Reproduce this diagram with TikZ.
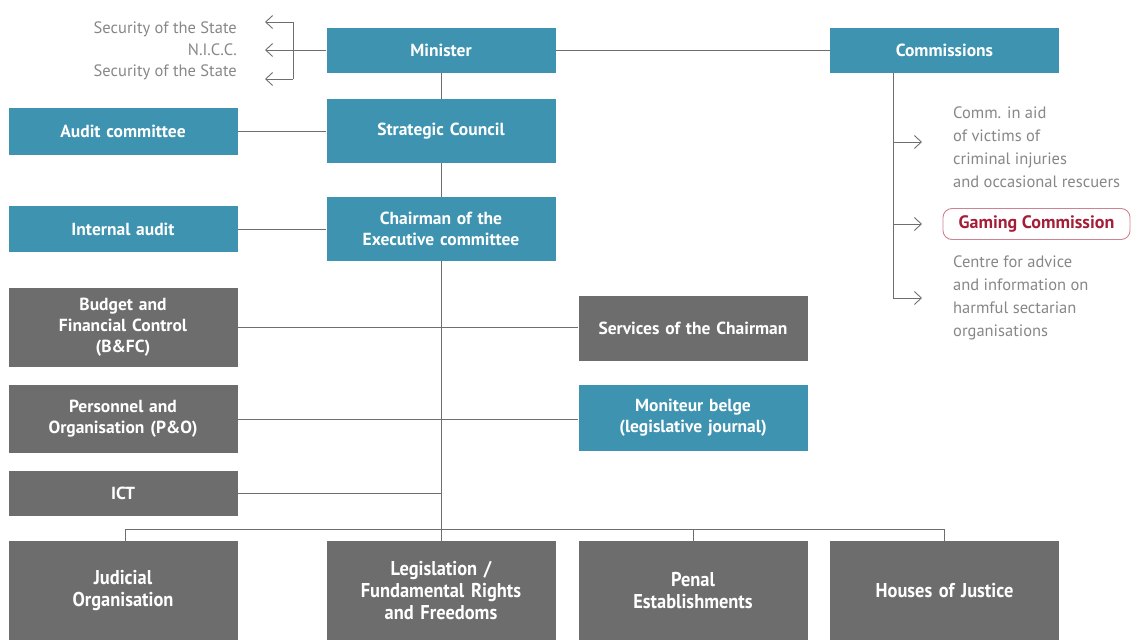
\documentclass[tikz,border=0pt]{standalone}
\usepackage{fontspec}
\setmainfont{PT Sans}
\newfontfamily\narrowfont{PT Sans}[FakeStretch=0.92]
\usetikzlibrary{arrows.meta}

\definecolor{boxteal}{RGB}{61,147,176}
\definecolor{boxgrey}{RGB}{109,109,109}
\definecolor{linegrey}{RGB}{110,110,110}
\definecolor{notegrey}{RGB}{135,135,135}
\definecolor{gamingred}{RGB}{165,30,55}

\tikzset{
  orgbox/.style={minimum width=229pt, inner sep=2pt, align=center, text=white,
    text width=222pt, font=\bfseries\fontsize{17.5}{21}\selectfont},
  tealbox/.style={orgbox, fill=boxteal},
  greybox/.style={orgbox, fill=boxgrey},
  basebox/.style={greybox, minimum height=99pt,
    font=\narrowfont\bfseries\fontsize{20}{22}\selectfont},
  note/.style={text=notegrey, inner sep=0pt, font=\fontsize{16.5}{23}\selectfont},
  link/.style={draw=linegrey, line width=0.9pt},
  pointer/.style={link, -{Straight Barb[length=7pt,width=13pt]}},
}

\begin{document}
\begin{tikzpicture}[x=1pt,y=-1pt]

  \useasboundingbox (0,0) rectangle (1132,640);

  % top row
  \node[tealbox, minimum height=45pt] (minister) at (441,50) {Minister};
  \node[tealbox, minimum height=45pt] (commissions) at (944.5,50) {Commissions};

  % staff boxes
  \node[tealbox, minimum height=64pt] (strategic) at (441,131) {Strategic Council};
  \node[tealbox, minimum height=47pt] (audit) at (123,131) {Audit committee};
  \node[tealbox, minimum height=64pt] (chairman) at (441,229) {Chairman of the\\Executive committee};
  \node[tealbox, minimum height=46pt] (internal) at (123,229) {Internal audit};

  \node[greybox, minimum height=79pt] (budget) at (123,327) {Budget and\\Financial Control\\(B\&FC)};
  \node[greybox, minimum height=65pt] (services) at (693,328.5) {Services of the Chairman};
  \node[greybox, minimum height=68pt] (personnel) at (123,419) {Personnel and\\Organisation (P\&O)};
  \node[tealbox, minimum height=66pt] (moniteur) at (693,418) {Moniteur belge\\(legislative journal)};
  \node[greybox, minimum height=45pt] (ict) at (123,493.5) {ICT};

  % bottom row
  \node[basebox] (judicial) at (123,590.5) {Judicial\\Organisation};
  \node[basebox] (legislation) at (441,590.5) {Legislation /\\Fundamental Rights\\and Freedoms};
  \node[basebox] (penal) at (693,590.5) {Penal\\Establishments};
  \node[basebox] (houses) at (944.5,590.5) {Houses of Justice};

  % trunk
  \draw[link] (minister.south) -- (strategic.north);
  \draw[link] (strategic.south) -- (chairman.north);
  \draw[link] (chairman.south) -- (legislation.north);
  \draw[link] (minister.east) -- (commissions.west);

  % side links
  \draw[link] (audit.east) -- (strategic.west);
  \draw[link] (internal.east) -- (chairman.west);
  \draw[link] (budget.east) -- (budget.east -| services.west);
  \draw[link] (personnel.east) -- (personnel.east -| moniteur.west);
  \draw[link] (ict.east) -- (ict.east -| chairman.south);

  % bus to bottom row
  \coordinate (busl) at (125,529);
  \draw[link] (judicial.north -| busl) -- (busl) -- (busl -| houses.north) -- (houses.north);
  \draw[link] (busl -| penal.north) -- (penal.north);

  % services of the state
  \coordinate (brk) at (293,50);
  \coordinate (brtop) at (293,22);
  \coordinate (brbot) at (293,79);
  \draw[link] (minister.west) -- (brk);
  \draw[link] (brtop) -- (brbot);
  \foreach \y in {22,50,79}
    \draw[pointer] (293,\y) -- ++(-28,0);
  \node[note, anchor=east] (sec1) at (237,29) {Security of the State};
  \node[note, anchor=east] (nicc) at (237,50) {N.I.C.C.};
  \node[note, anchor=east] (sec2) at (237,72) {Security of the State};

  % commissions
  \coordinate (cbr) at (893,298);
  \draw[link] (commissions.south -| cbr) -- (cbr);
  \foreach \y in {142,224,298}
    \draw[pointer] (893,\y) -- ++(29,0);
  \node[note, anchor=west, align=left] (victims) at (953,147)
    {Comm. in aid\\of victims of\\criminal injuries\\and occasional rescuers};
  \node[draw=gamingred!55, rounded corners=9pt, line width=0.9pt, minimum width=187pt,
    minimum height=31pt, text=gamingred, font=\bfseries\fontsize{18}{20}\selectfont]
    (gaming) at (1036.5,224) {Gaming Commission};
  \node[note, anchor=west, align=left] (sects) at (953,298)
    {Centre for advice\\and information on\\harmful sectarian\\organisations};

\end{tikzpicture}
\end{document}
